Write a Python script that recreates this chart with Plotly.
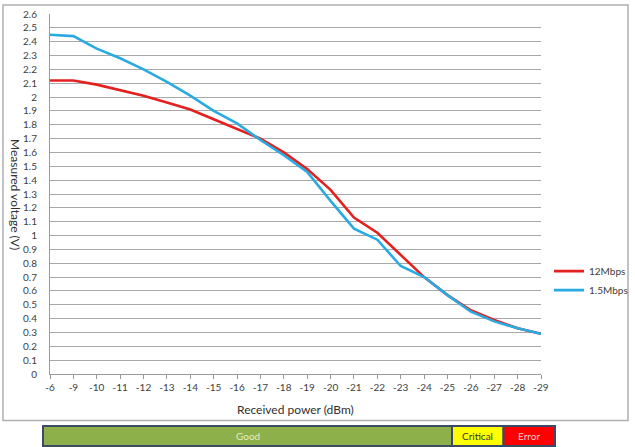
import plotly.graph_objects as go

# ---- data ----
power_dbm = ["-6", "-9", "-10", "-11", "-12", "-13", "-14", "-15", "-16", "-17", "-18",
             "-19", "-20", "-21", "-22", "-23", "-24", "-25", "-26", "-27", "-28", "-29"]
v_12mbps = [2.12, 2.12, 2.09, 2.05, 2.01, 1.96, 1.91, 1.84, 1.77, 1.70, 1.60,
            1.48, 1.33, 1.13, 1.02, 0.86, 0.70, 0.57, 0.46, 0.39, 0.33, 0.29]
v_1_5mbps = [2.45, 2.44, 2.35, 2.28, 2.20, 2.11, 2.01, 1.90, 1.81, 1.69, 1.58,
             1.46, 1.25, 1.05, 0.97, 0.78, 0.70, 0.57, 0.45, 0.38, 0.33, 0.29]
series_names = ["12Mbps", "1.5Mbps"]
zone_labels = ["Good", "Critical", "Error"]

W, H = 635, 447
L, R, T, B = 50, 541, 14, 374.5   # plot area in px

def px(x):
    return (x - L) / (R - L)

def py(y):
    return (B - y) / (B - T)

FONT = "Lato, Open Sans, Liberation Sans, sans-serif"

fig = go.Figure()
fig.add_trace(go.Scatter(x=power_dbm, y=v_12mbps, mode="lines", name=series_names[0],
                         line=dict(color="#e3211f", width=2.6)))
fig.add_trace(go.Scatter(x=power_dbm, y=v_1_5mbps, mode="lines", name=series_names[1],
                         line=dict(color="#29abe2", width=2.6)))

fig.update_layout(
    width=W, height=H,
    margin=dict(l=L, r=W - R, t=T, b=H - B, pad=0, autoexpand=False),
    paper_bgcolor="white", plot_bgcolor="white",
    font=dict(family=FONT, size=10, color="#404040"),
    showlegend=True,
    legend=dict(x=px(633), y=py(281), xanchor="right", yanchor="middle",
                font=dict(size=10, color="#404040"), bgcolor="rgba(0,0,0,0)",
                tracegroupgap=2, itemwidth=30),
    xaxis=dict(type="category", range=[0, len(power_dbm) - 1], showgrid=False,
               showline=True, linecolor="#9a9a9a", linewidth=1,
               ticks="outside", ticklen=4, tickcolor="#9a9a9a",
               tickfont=dict(size=10, color="#404040"), zeroline=False),
    yaxis=dict(range=[0, 2.6], dtick=0.1, tick0=0, showgrid=True,
               gridcolor="#a8a8a8", gridwidth=1, showline=True, linecolor="#9a9a9a",
               linewidth=1, ticks="", tickfont=dict(size=10, color="#404040"),
               zeroline=False, ticklabelstandoff=10),
)

# axis titles
fig.add_annotation(text="Measured voltage (V)", xref="paper", yref="paper",
                   x=px(16), y=0.5, textangle=90, showarrow=False,
                   font=dict(size=12, color="#303030"), xanchor="center", yanchor="middle")
fig.add_annotation(text="Received power (dBm)", xref="paper", yref="paper",
                   x=0.5, y=py(410), showarrow=False,
                   font=dict(size=12, color="#303030"), xanchor="center", yanchor="middle")

# outer chart border
fig.add_shape(type="rect", xref="paper", yref="paper",
              x0=px(3), x1=px(628), y0=py(421), y1=py(5),
              line=dict(color="#b0b0b0", width=1.5), fillcolor="rgba(0,0,0,0)", layer="below")

# zone bar
zone_bounds = [(43, 452), (452, 503.5), (503.5, 555)]
zone_fill = ["#8db04a", "#ffff00", "#ff0000"]
zone_text = ["#e6edc8", "#333333", "#f3d0d0"]
for (x0, x1), fill, tcol, lab in zip(zone_bounds, zone_fill, zone_text, zone_labels):
    fig.add_shape(type="rect", xref="paper", yref="paper",
                  x0=px(x0), x1=px(x1), y0=py(446.5), y1=py(426.5),
                  line=dict(color="#3b4a66", width=2), fillcolor=fill)
    fig.add_annotation(text=lab, xref="paper", yref="paper",
                       x=px((x0 + x1) / 2), y=py(436.5), showarrow=False,
                       font=dict(size=10, color=tcol), xanchor="center", yanchor="middle")

fig.write_html("out.html", config={"displayModeBar": False},
               post_script="document.body.style.margin='0px';document.body.style.overflow='hidden';")
